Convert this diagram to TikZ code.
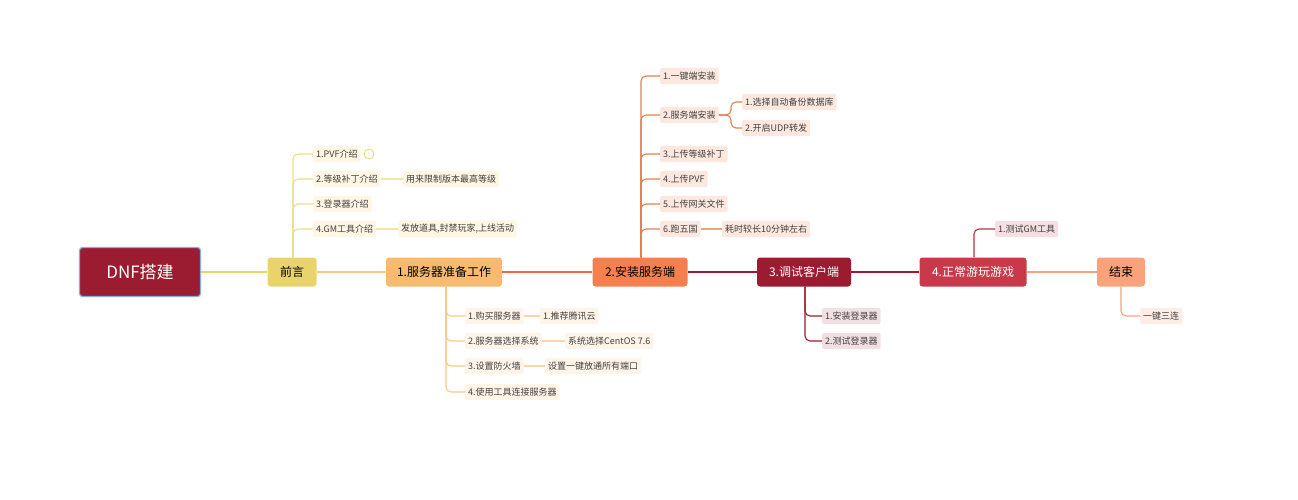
\documentclass[tikz,border=0pt]{standalone}
\usepackage{fontspec}
\setmainfont{Noto Sans CJK SC}
\begin{document}
\begin{tikzpicture}[x=1pt,y=-1pt,
  mainbox/.style={rounded corners=3pt,minimum height=29pt,inner xsep=8pt,font=\fontsize{12}{13}\selectfont},
  sub/.style={anchor=west,rounded corners=2pt,inner xsep=3pt,inner ysep=4pt,font=\fontsize{9}{9}\selectfont,text=black!75},
  ln/.style={line width=1.1pt,rounded corners=5pt}]
\useasboundingbox (0,0) rectangle (1298,500);
\definecolor{dred}{HTML}{9B1B30}
\definecolor{ylw}{HTML}{E9D46C}
\definecolor{org}{HTML}{F8BA6E}
\definecolor{orr}{HTML}{F47F4F}
\definecolor{rd4}{HTML}{C8394A}
\definecolor{slm}{HTML}{F9A27C}
% main nodes
\node[mainbox,fill=dred,draw=cyan!60!blue!50,line width=1.2pt,minimum width=121pt,minimum height=49pt,text=white,font=\fontsize{17}{18}\selectfont] (root) at (140,272) {DNF搭建};
\node[mainbox,fill=ylw,minimum width=49pt] (m0) at (292,272) {前言};
\node[mainbox,fill=org,minimum width=116pt] (m1) at (444,272) {1.服务器准备工作};
\node[mainbox,fill=orr,minimum width=95pt] (m2) at (640,272) {2.安装服务端};
\node[mainbox,fill=dred,text=white,minimum width=94pt] (m3) at (804,272) {3.调试客户端};
\node[mainbox,fill=rd4,text=white,minimum width=107pt] (m4) at (973,272) {4.正常游玩游戏};
\node[mainbox,fill=slm,minimum width=48pt] (m5) at (1121,272) {结束};
\draw[line width=1.5pt,ylw] (root) -- (m0);
\draw[line width=1.5pt,org!80] (m0) -- (m1);
\draw[line width=1.5pt,orr!80!red] (m1) -- (m2);
\draw[line width=1.5pt,dred] (m2) -- (m3);
\draw[line width=1.5pt,dred] (m3) -- (m4);
\draw[line width=1.5pt,slm] (m4) -- (m5);
% 前言
\tikzset{s0/.style={sub,fill=yellow!50!orange!10}}
\node[s0] (a1) at (313,154) {1.PVF介绍};
\node[draw=ylw,circle,line width=0.8pt,inner sep=1pt,minimum size=10pt,font=\fontsize{6}{6}\selectfont,text=ylw] (a1i) at (369,154) {!};
\node[s0] (a2) at (313,179) {2.等级补丁介绍};
\node[s0] (a2a) at (403,179) {用来限制版本最高等级};
\node[s0] (a3) at (313,204) {3.登录器介绍};
\node[s0] (a4) at (313,229) {4.GM工具介绍};
\node[s0] (a4a) at (398,229) {发放道具,封禁玩家,上线活动};
\foreach \c in {a1,a2,a3,a4} \draw[ln,ylw!80] ([xshift=1pt]m0.north) |- (\c.west);
\draw[ln,ylw!60] (a2) -- (a2a); \draw[ln,ylw!60] (a4) -- (a4a);
% 1
\tikzset{s1/.style={sub,fill=orange!9}}
\node[s1] (b1) at (465,316) {1.购买服务器};
\node[s1] (b1a) at (540,316) {1.推荐腾讯云};
\node[s1] (b2) at (465,341) {2.服务器选择系统};
\node[s1] (b2a) at (565,341) {系统选择CentOS 7.6};
\node[s1] (b3) at (465,366) {3.设置防火墙};
\node[s1] (b3a) at (545,366) {设置一键放通所有端口};
\node[s1] (b4) at (465,392) {4.使用工具连接服务器};
\foreach \c in {b1,b2,b3,b4} \draw[ln,org!80] ([xshift=2pt]m1.south) |- (\c.west);
\draw[ln,org!60] (b1) -- (b1a); \draw[ln,org!60] (b2) -- (b2a); \draw[ln,org!60] (b3) -- (b3a);
% 2
\tikzset{s2/.style={sub,fill=orr!18}}
\node[s2] (c1) at (660,76) {1.一键端安装};
\node[s2] (c2) at (660,115) {2.服务端安装};
\node[s2] (c2a) at (742,102) {1.选择自动备份数据库};
\node[s2] (c2b) at (742,128) {2.开启UDP转发};
\node[s2] (c3) at (660,154) {3.上传等级补丁};
\node[s2] (c4) at (660,179) {4.上传PVF};
\node[s2] (c5) at (660,204) {5.上传网关文件};
\node[s2] (c6) at (660,229) {6.跑五国};
\node[s2] (c6a) at (722,229) {耗时较长10分钟左右};
\foreach \c in {c1,c2,c3,c4,c5,c6} \draw[ln,orr!70!brown] ([xshift=1pt]m2.north) |- (\c.west);
\foreach \c in {c2a,c2b} \draw[ln,orr!70!brown] (c2.east) -- (731,115) |- (\c.west);
\draw[ln,orr!60!brown!70] (c6) -- (c6a);
% 3
\tikzset{s3/.style={sub,fill=dred!14}}
\node[s3] (d1) at (822,316) {1.安装登录器};
\node[s3] (d2) at (822,341) {2.测试登录器};
\foreach \c in {d1,d2} \draw[ln,dred] ([xshift=1pt]m3.south) |- (\c.west);
% 4
\node[sub,fill=rd4!16] (e1) at (995,229) {1.测试GM工具};
\draw[ln,rd4!90!black] ([xshift=1pt]m4.north) |- (e1.west);
% end
\node[sub,fill=slm!20] (f1) at (1140,316) {一键三连};
\draw[ln,slm] (m5.south) |- (f1.west);
\end{tikzpicture}
\end{document}
